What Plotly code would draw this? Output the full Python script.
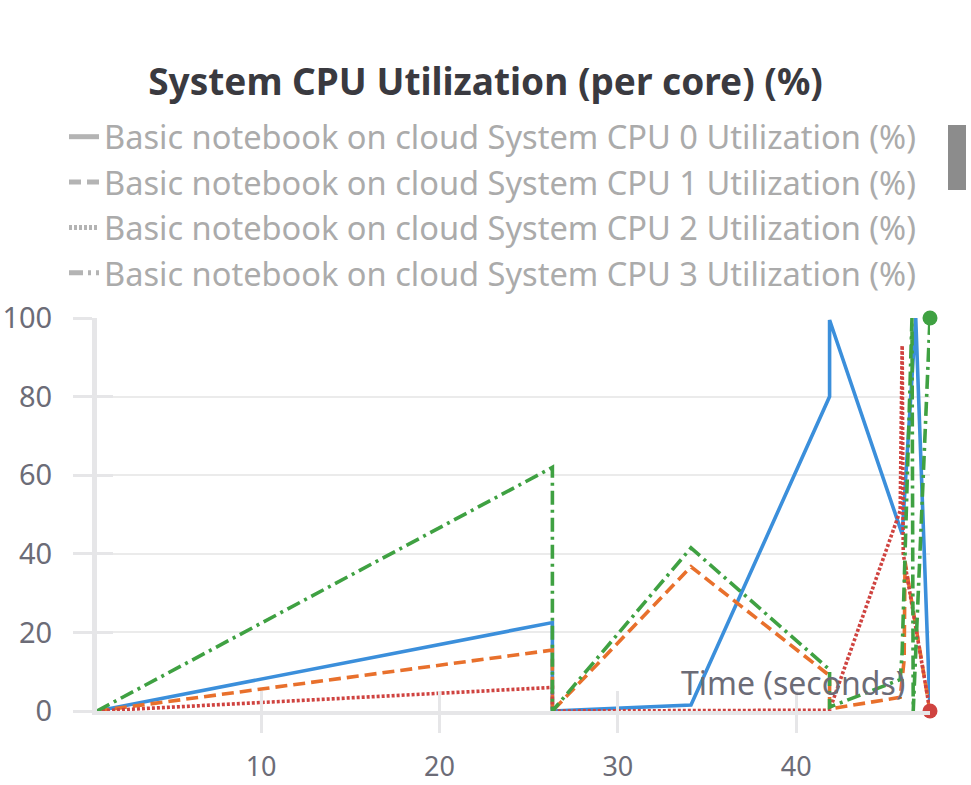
import plotly.graph_objects as go

# ---- data ----
series_names = [
    "Basic notebook on cloud System CPU 0 Utilization (%)",
    "Basic notebook on cloud System CPU 1 Utilization (%)",
    "Basic notebook on cloud System CPU 2 Utilization (%)",
    "Basic notebook on cloud System CPU 3 Utilization (%)",
]

cpu0_t = [0.8, 26.33, 26.33, 34.1, 41.87, 41.87, 45.94, 46.7, 47.5]
cpu0_y = [0, 22.5, 0, 1.5, 80, 99.5, 45, 100, 0]

cpu1_t = [0.8, 26.33, 26.33, 34.1, 41.87, 41.87, 45.83, 46.05, 46.1, 47.5]
cpu1_y = [0, 15.5, 0, 36.7, 9, 0.5, 3.5, 13, 38, 0]

cpu2_t = [0.8, 26.33, 26.33, 41.87, 45.83, 45.94, 46.0, 47.5]
cpu2_y = [0, 6, 0, 0.2, 51, 93, 40, 0]

cpu3_t = [0.8, 26.33, 26.33, 34.1, 41.87, 41.87, 45.83, 45.94, 46.49, 46.56, 47.5]
cpu3_y = [0, 62, 0, 41.5, 10.5, 1, 8, 15, 100, 0, 100]

x_tickvals = [10, 20, 30, 40]
y_tickvals = [0, 20, 40, 60, 80, 100]

colors = ["#3b8fdb", "#e8702c", "#cf4340", "#3fa142"]
dashes = ["solid", "12px,6px", "3px,2px", "14px,5px,3px,5px"]

# ---- figure ----
fig = go.Figure()
data = [(cpu0_t, cpu0_y), (cpu1_t, cpu1_y), (cpu2_t, cpu2_y), (cpu3_t, cpu3_y)]
for (t, y), c, d, n in zip(data, colors, dashes, series_names):
    fig.add_trace(go.Scatter(x=t, y=y, mode="lines", name=n, showlegend=False,
                             line=dict(color=c, width=3.6, dash=d)))

# end-point markers (last values of CPU 3 and CPU 2)
fig.add_trace(go.Scatter(x=[cpu3_t[-1]], y=[cpu3_y[-1]], mode="markers", showlegend=False,
                         marker=dict(color=colors[3], size=15), cliponaxis=False))
fig.add_trace(go.Scatter(x=[cpu2_t[-1]], y=[cpu2_y[-1]], mode="markers", showlegend=False,
                         marker=dict(color=colors[2], size=15), cliponaxis=False))

# gray legend entries
for i, (d, n) in enumerate(zip(dashes, series_names)):
    fig.add_trace(go.Scatter(x=[None], y=[None], mode="lines", name=n,
                             legendgroup=f"g{i}",
                             line=dict(color="#b4b4b4", width=5, dash=d)))

# helper trace for crossing-ticks axes
fig.add_trace(go.Scatter(x=[None], y=[None], xaxis="x2", yaxis="y2", showlegend=False,
                         hoverinfo="skip"))

axis_col = "#e6e6e8"
tick_font = dict(family="Noto Sans", size=29, color="#6c6c77")
xtick_font = dict(family="Noto Sans", size=27, color="#6c6c77")
xr = [0.8, 47.5]
yr = [0, 100]

fig.update_layout(
    width=971, height=785,
    margin=dict(l=97, r=41, t=318, b=74),
    paper_bgcolor="white", plot_bgcolor="white",
    title=dict(text="<b>System CPU Utilization (per core) (%)</b>",
               x=0.5, xanchor="center", xref="container",
               y=1 - 82 / 785, yanchor="middle", yref="container",
               font=dict(family="Noto Sans", size=37, color="#3a3a40")),
    legend=dict(x=(64 - 97) / 833, y=(711 - 109) / 393, xanchor="left", yanchor="top",
                font=dict(family="Noto Sans", size=32.6, color="#ababab"),
                traceorder="grouped", tracegroupgap=0,
                bgcolor="rgba(0,0,0,0)"),
    xaxis=dict(range=xr, tickvals=x_tickvals, showgrid=False, zeroline=False,
               showline=True, linewidth=4, linecolor=axis_col, automargin=False,
               ticks="outside", ticklen=18, tickwidth=3, tickcolor=axis_col,
               ticklabelstandoff=11, tickfont=xtick_font),
    yaxis=dict(range=yr, tickvals=y_tickvals, showgrid=True, gridcolor="#ebebeb",
               gridwidth=1.5, zeroline=False, automargin=False,
               showline=True, linewidth=5, linecolor=axis_col,
               ticks="outside", ticklen=19, tickwidth=3, tickcolor=axis_col,
               ticklabelstandoff=15, tickfont=tick_font),
    xaxis2=dict(range=xr, overlaying="x", tickvals=x_tickvals, showgrid=False,
                zeroline=False, showline=False, ticks="inside", ticklen=20,
                tickwidth=3, tickcolor=axis_col, showticklabels=False, automargin=False),
    yaxis2=dict(range=yr, overlaying="y", tickvals=y_tickvals, showgrid=False,
                zeroline=False, showline=False, ticks="inside", ticklen=16,
                tickwidth=3, tickcolor=axis_col, showticklabels=False, automargin=False),
    annotations=[dict(text="Time (seconds)", xref="paper", yref="paper",
                      x=(907 - 97) / 833, y=(711 - 682) / 393,
                      xanchor="right", yanchor="middle", showarrow=False,
                      font=dict(family="Noto Sans", size=32, color="#6c6c77"))],
    shapes=[dict(type="rect", xref="paper", yref="paper",
                 x0=(948 - 97) / 833, x1=(966 - 97) / 833,
                 y0=(711 - 190) / 393, y1=(711 - 125) / 393,
                 fillcolor="#8c8c8c", line=dict(width=0), layer="above")],
)

fig.write_html("out.html")
